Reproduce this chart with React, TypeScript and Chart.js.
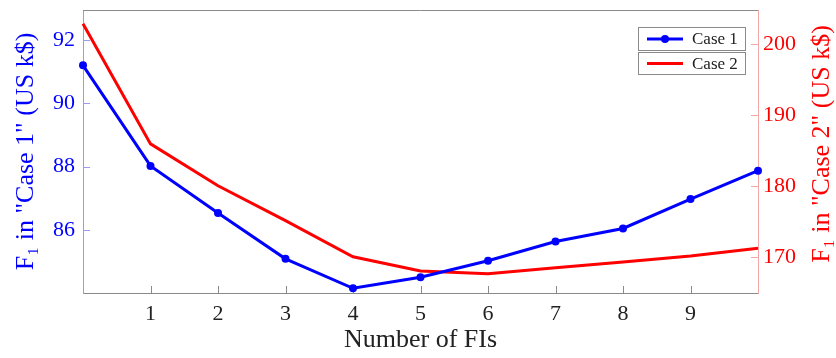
import React, { useEffect, useRef } from "react";
import { Chart, registerables } from "chart.js";

Chart.register(...registerables);

const fisCount = [0, 1, 2, 3, 4, 5, 6, 7, 8, 9, 10];
const case1Values = [91.2, 88.02, 86.53, 85.08, 84.15, 84.5, 85.02, 85.63, 86.04, 86.97, 87.87];
const case2Values = [202.8, 185.9, 180.0, 175.1, 170.0, 168.0, 167.6, 168.45, 169.25, 170.1, 171.2];
const xTickLabels = [1, 2, 3, 4, 5, 6, 7, 8, 9];
const leftTickLabels = [86, 88, 90, 92];
const rightTickLabels = [170, 180, 190, 200];
const seriesNames = ["Case 1", "Case 2"];
const rightTitle = "F\u2081 in \"Case 2\" (US k$)";

const FONT = "'Liberation Serif', 'DejaVu Serif', serif";
const BLUE = "#0000ff";
const RED = "#ff0000";
const LEFT_AXIS = "#9a9af2";
const RIGHT_AXIS = "#f3a6a6";
const GRAY = "#8a8a8a";

const decorPlugin = {
  id: "decor",
  beforeDatasetsDraw(chart: any) {
    const { ctx, chartArea, scales } = chart;
    ctx.save();
    ctx.lineWidth = 1;
    ctx.strokeStyle = GRAY;
    ctx.beginPath();
    ctx.moveTo(chartArea.left, chartArea.top + 0.5);
    ctx.lineTo(chartArea.right, chartArea.top + 0.5);
    ctx.stroke();
    xTickLabels.forEach((v) => {
      const px = Math.round(scales.x.getPixelForValue(v)) + 0.5;
      ctx.beginPath();
      ctx.moveTo(px, chartArea.bottom);
      ctx.lineTo(px, chartArea.bottom - 7);
      ctx.stroke();
    });
    ctx.strokeStyle = LEFT_AXIS;
    leftTickLabels.forEach((v) => {
      const py = Math.round(scales.y.getPixelForValue(v)) + 0.5;
      ctx.beginPath();
      ctx.moveTo(chartArea.left, py);
      ctx.lineTo(chartArea.left + 7, py);
      ctx.stroke();
    });
    ctx.strokeStyle = RIGHT_AXIS;
    rightTickLabels.forEach((v) => {
      const py = Math.round(scales.y2.getPixelForValue(v)) + 0.5;
      ctx.beginPath();
      ctx.moveTo(chartArea.right, py);
      ctx.lineTo(chartArea.right - 7, py);
      ctx.stroke();
    });
    // right axis title, reading bottom-to-top
    ctx.fillStyle = RED;
    ctx.font = `26px ${FONT}`;
    ctx.textAlign = "center";
    ctx.textBaseline = "middle";
    ctx.translate(chart.width - 14, 144);
    ctx.rotate(-Math.PI / 2);
    ctx.fillText(rightTitle, 0, 0);
    ctx.restore();
  },
  afterDraw(chart: any) {
    const { ctx } = chart;
    ctx.save();
    const boxes = [
      { y: 27, h: 23, color: BLUE, marker: true, label: seriesNames[0] },
      { y: 52, h: 22, color: RED, marker: false, label: seriesNames[1] },
    ];
    const bx = 638.5;
    const bw = 107;
    boxes.forEach((b) => {
      ctx.fillStyle = "#ffffff";
      ctx.fillRect(bx, b.y + 0.5, bw, b.h);
      ctx.strokeStyle = GRAY;
      ctx.lineWidth = 1;
      ctx.strokeRect(bx, b.y + 0.5, bw, b.h);
      const cy = b.y + b.h / 2 + 0.5;
      ctx.strokeStyle = b.color;
      ctx.lineWidth = 3;
      ctx.beginPath();
      ctx.moveTo(647, cy);
      ctx.lineTo(683, cy);
      ctx.stroke();
      if (b.marker) {
        ctx.fillStyle = b.color;
        ctx.beginPath();
        ctx.arc(665, cy, 4, 0, Math.PI * 2);
        ctx.fill();
      }
      ctx.fillStyle = "#222222";
      ctx.font = `17px ${FONT}`;
      ctx.textBaseline = "middle";
      ctx.textAlign = "left";
      ctx.fillText(b.label, 692, cy + 1);
    });
    ctx.restore();
  },
};

export default function App() {
  const canvasRef = useRef<HTMLCanvasElement | null>(null);

  useEffect(() => {
    if (!canvasRef.current) return;
    const chart = new Chart(canvasRef.current, {
      type: "line",
      data: {
        datasets: [
          {
            label: seriesNames[0],
            data: fisCount.map((x, i) => ({ x, y: case1Values[i] })),
            borderColor: BLUE,
            backgroundColor: BLUE,
            borderWidth: 3,
            pointRadius: 4,
            pointBorderWidth: 0,
            pointBackgroundColor: BLUE,
            yAxisID: "y",
            tension: 0,
            clip: false as any,
          },
          {
            label: seriesNames[1],
            data: fisCount.map((x, i) => ({ x, y: case2Values[i] })),
            borderColor: RED,
            backgroundColor: RED,
            borderWidth: 3,
            pointRadius: 0,
            yAxisID: "y2",
            tension: 0,
            clip: false as any,
          },
        ],
      },
      options: {
        animation: false,
        responsive: true,
        maintainAspectRatio: false,
        layout: { padding: { top: 10, left: 0, right: 0, bottom: 0 } },
        plugins: { legend: { display: false }, tooltip: { enabled: false } },
        scales: {
          x: {
            type: "linear",
            position: "bottom",
            min: 0,
            max: 10,
            grid: { display: false, drawTicks: false },
            border: { display: true, color: GRAY, width: 1 },
            ticks: {
              stepSize: 1,
              includeBounds: false,
              padding: 8,
              color: "#222222",
              font: { family: FONT, size: 22 },
              callback: (v: any) => (xTickLabels.includes(Number(v)) ? String(v) : ""),
            },
            title: {
              display: true,
              text: "Number of FIs",
              color: "#222222",
              font: { family: FONT, size: 26 },
              padding: { top: 0, bottom: 2 },
            },
            afterFit: (s: any) => {
              s.height = 65;
              s.paddingLeft = 0;
              s.paddingRight = 0;
            },
          },
          y: {
            type: "linear",
            position: "left",
            min: 84,
            max: 92.95,
            grid: { display: false, drawTicks: false },
            border: { display: true, color: LEFT_AXIS, width: 1 },
            ticks: {
              stepSize: 2,
              includeBounds: false,
              padding: 8,
              color: BLUE,
              font: { family: FONT, size: 22 },
              callback: (v: any) => (leftTickLabels.includes(Number(v)) ? String(v) : ""),
            },
            title: {
              display: true,
              text: "F\u2081 in \"Case 1\" (US k$)",
              color: BLUE,
              font: { family: FONT, size: 26 },
              padding: { top: 11, bottom: 0 },
            },
            afterFit: (s: any) => {
              s.width = 83;
              s.paddingTop = 0;
              s.paddingBottom = 0;
            },
          },
          y2: {
            type: "linear",
            position: "right",
            min: 164.9,
            max: 204.75,
            grid: { display: false, drawTicks: false },
            border: { display: true, color: RIGHT_AXIS, width: 1 },
            ticks: {
              stepSize: 10,
              includeBounds: false,
              padding: 5,
              color: RED,
              font: { family: FONT, size: 22 },
              callback: (v: any) => (rightTickLabels.includes(Number(v)) ? String(v) : ""),
            },
            title: { display: false },
            afterFit: (s: any) => {
              s.width = 78;
              s.paddingTop = 0;
              s.paddingBottom = 0;
            },
          },
        },
      },
      plugins: [decorPlugin],
    });
    return () => chart.destroy();
  }, []);

  return (
    <div style={{ position: "fixed", left: 0, top: 0, width: 836, height: 358, background: "#fff" }}>
      <canvas ref={canvasRef} />
    </div>
  );
}
